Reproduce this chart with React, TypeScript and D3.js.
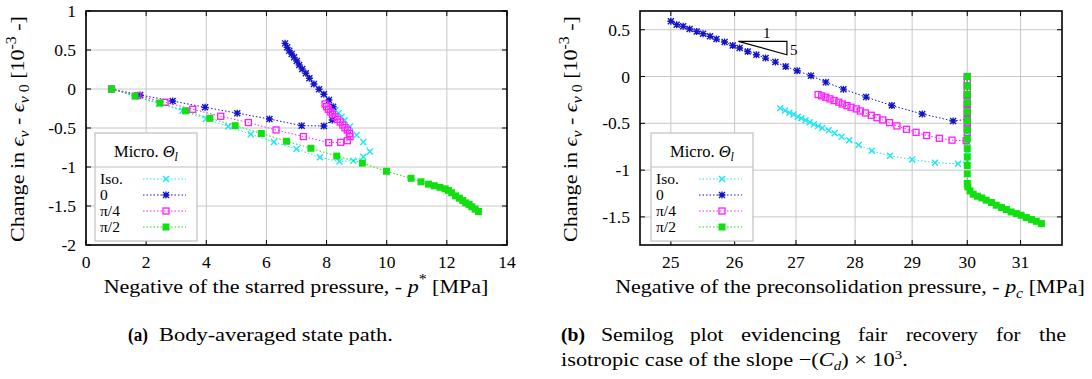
import React, { useLayoutEffect, useRef, useState } from "react";
import * as d3 from "d3";

// ---------- DATA ----------
const seriesLabels = ["Iso.", "0", "π/4", "π/2"];
const seriesColors = ["#1ee6f2", "#1414c8", "#ff1cff", "#10e010"];
const seriesMarkers = ["cross", "star", "openSquare", "filledSquare"];

// (a) x = -p* [MPa], y = change in eps_v [1e-3]
const isoA: [number, number][] = [
  [0.85, 0], [1.64, -0.095], [2.43, -0.19], [3.21, -0.28], [3.99, -0.385], [4.73, -0.48],
  [5.48, -0.58], [6.25, -0.68], [7.0, -0.77], [7.78, -0.876], [8.43, -0.93], [8.89, -0.92],
  [9.22, -0.87], [9.44, -0.8], [9.22, -0.68], [9.0, -0.59], [8.78, -0.48], [8.6, -0.4],
  [8.5, -0.355], [8.4, -0.31], [8.3, -0.27],
];
const zeroA: [number, number][] = [
  [0.85, 0], [1.8, -0.077], [2.88, -0.154], [3.96, -0.235], [5.03, -0.31], [6.1, -0.385],
  [7.17, -0.47], [7.91, -0.474], [8.19, -0.397], [8.22, -0.227], [8.08, -0.141], [7.91, -0.068],
  [7.75, -0.004], [7.58, 0.064], [7.43, 0.137], [7.31, 0.201], [7.19, 0.256], [7.09, 0.308],
  [7.01, 0.359], [6.92, 0.406], [6.84, 0.449], [6.76, 0.49], [6.69, 0.534], [6.62, 0.585],
];
const quarterA: [number, number][] = [
  [0.85, 0], [1.72, -0.085], [2.63, -0.17], [3.55, -0.26], [4.48, -0.35], [5.4, -0.43],
  [6.32, -0.525], [7.23, -0.61], [8.07, -0.688], [8.47, -0.683], [8.69, -0.663], [8.78, -0.611],
  [8.76, -0.568], [8.69, -0.526], [8.61, -0.496], [8.54, -0.462], [8.45, -0.423], [8.36, -0.389],
  [8.28, -0.355], [8.2, -0.325], [8.14, -0.295], [8.06, -0.26], [8.0, -0.226], [7.95, -0.192],
];
const halfA: [number, number][] = [
  [0.85, 0], [1.63, -0.09], [2.46, -0.18], [3.31, -0.28], [4.12, -0.375], [4.96, -0.47],
  [5.83, -0.57], [6.67, -0.67], [7.48, -0.76], [8.34, -0.86], [9.19, -0.95], [9.99, -1.055],
  [10.81, -1.145], [11.14, -1.19], [11.39, -1.22], [11.58, -1.24], [11.77, -1.26], [11.94, -1.28],
  [12.05, -1.3], [12.16, -1.33], [12.29, -1.37], [12.42, -1.4], [12.53, -1.43], [12.63, -1.46],
  [12.74, -1.48], [12.83, -1.51], [12.94, -1.54], [13.05, -1.57],
];

// (b) x = -pc [MPa] (log), y = change in eps_v [1e-3]
const isoB: [number, number][] = [
  [30, 0], [30, -0.1], [30, -0.2], [30, -0.3], [30, -0.4], [30, -0.5], [30, -0.6], [30, -0.7],
  [30, -0.8], [30, -0.9], [29.83, -0.932], [29.41, -0.922], [29.0, -0.886], [28.61, -0.847],
  [28.29, -0.793], [28.06, -0.732], [27.9, -0.682], [27.77, -0.643], [27.65, -0.607],
  [27.55, -0.575], [27.44, -0.55], [27.37, -0.53], [27.3, -0.51], [27.23, -0.489],
  [27.16, -0.467], [27.09, -0.446], [27.03, -0.429], [26.96, -0.407], [26.89, -0.386],
  [26.82, -0.364], [26.74, -0.339],
];
const zeroB: [number, number][] = [
  [30, 0], [30, -0.1], [30, -0.2], [30, -0.3], [30, -0.4], [30, -0.457], [29.74, -0.475],
  [29.18, -0.4], [28.64, -0.31], [28.19, -0.22], [27.8, -0.135], [27.5, -0.06], [27.25, 0.008],
  [27.02, 0.061], [26.83, 0.107], [26.66, 0.154], [26.5, 0.197], [26.35, 0.233], [26.21, 0.268],
  [26.08, 0.304], [25.97, 0.332], [25.84, 0.369], [25.71, 0.4], [25.61, 0.429], [25.5, 0.458],
  [25.4, 0.482], [25.29, 0.508], [25.19, 0.536], [25.09, 0.554], [25.0, 0.59],
];
const quarterB: [number, number][] = [
  [30, 0], [30, -0.05], [30, -0.1], [30, -0.15], [30, -0.2], [30, -0.25], [30, -0.3],
  [30, -0.35], [30, -0.4], [30, -0.45], [30, -0.5], [30, -0.55], [30, -0.6], [29.98, -0.686],
  [29.72, -0.68], [29.49, -0.66], [29.26, -0.63], [29.07, -0.596], [28.9, -0.564], [28.73, -0.528],
  [28.6, -0.493], [28.48, -0.464], [28.38, -0.44], [28.28, -0.414], [28.18, -0.389], [28.09, -0.368],
  [28.02, -0.346], [27.93, -0.328], [27.86, -0.311], [27.78, -0.293], [27.72, -0.274], [27.64, -0.257],
  [27.57, -0.239], [27.5, -0.221], [27.43, -0.207], [27.37, -0.193],
];
const halfB: [number, number][] = [
  [30, 0], [30, -0.1], [30, -0.19], [30, -0.28], [30, -0.375], [30, -0.47], [30, -0.57],
  [30, -0.67], [30, -0.77], [30, -0.86], [30, -0.95], [30, -1.04], [30, -1.143], [30.01, -1.179],
  [30.05, -1.222], [30.11, -1.257], [30.19, -1.279], [30.27, -1.297], [30.35, -1.321],
  [30.45, -1.346], [30.54, -1.375], [30.64, -1.4], [30.73, -1.421], [30.82, -1.447],
  [30.92, -1.464], [31.01, -1.482], [31.11, -1.507], [31.21, -1.528], [31.3, -1.547], [31.4, -1.571],
];

const xTicksA = [0, 2, 4, 6, 8, 10, 12, 14];
const yTicksA = [1, 0.5, 0, -0.5, -1, -1.5, -2];
const xTicksB = [25, 26, 27, 28, 29, 30, 31];
const yTicksB = [0.5, 0, -0.5, -1, -1.5];
// slope triangle (b), data coords
const triangleB: [number, number][] = [[26.06, 0.375], [26.85, 0.375], [26.85, 0.233]];

// ---------- DRAWING ----------
const serif = "'Liberation Serif', 'Times New Roman', serif";
const gridColor = "#c8c8c8";

// Text horizontally stretched (glyph-wise) to a target width
function FitText({ x, y, width, anchor = "start", rotate = 0, fontSize, fontWeight, children }: any) {
  const ref = useRef<SVGTextElement>(null);
  const [s, setS] = useState(1);
  useLayoutEffect(() => {
    if (ref.current) {
      const w = ref.current.getBBox().width;
      if (w > 0) setS(width / w);
    }
  }, [width]);
  return (
    <g transform={`translate(${x},${y}) rotate(${rotate}) scale(${s},1)`}>
      <text ref={ref} x={0} y={0} textAnchor={anchor} fontFamily={serif} fontSize={fontSize} fontWeight={fontWeight}>
        {children}
      </text>
    </g>
  );
}

function Marker({ type, x, y, color }: { type: string; x: number; y: number; color: string }) {
  if (type === "cross")
    return <path d={`M${x - 3},${y - 3}L${x + 3},${y + 3}M${x - 3},${y + 3}L${x + 3},${y - 3}`} stroke={color} strokeWidth={1.4} fill="none" />;
  if (type === "star")
    return (
      <path
        d={`M${x - 3},${y - 3}L${x + 3},${y + 3}M${x - 3},${y + 3}L${x + 3},${y - 3}M${x - 3.5},${y}H${x + 3.5}M${x},${y - 3.5}V${y + 3.5}`}
        stroke={color} strokeWidth={1.4} fill="none" />
    );
  if (type === "openSquare")
    return <rect x={x - 3} y={y - 3} width={6} height={6} stroke={color} strokeWidth={1.3} fill="none" />;
  return <rect x={x - 3.5} y={y - 3.5} width={7} height={7} fill={color} />;
}

function Series({ data, xs, ys, idx }: { data: [number, number][]; xs: any; ys: any; idx: number }) {
  const line = d3.line<[number, number]>().x((d) => xs(d[0])).y((d) => ys(d[1]));
  return (
    <g>
      <path d={line(data) || ""} stroke={seriesColors[idx]} strokeWidth={1} strokeDasharray="1.5,2" fill="none" />
      {data.map((d, i) => (
        <Marker key={i} type={seriesMarkers[idx]} x={xs(d[0])} y={ys(d[1])} color={seriesColors[idx]} />
      ))}
    </g>
  );
}

function Frame({ xs, ys, xTicks, yTicks, fmt, x0, x1, y0, y1 }: any) {
  return (
    <g>
      {xTicks.map((t: number) => (
        <line key={"gx" + t} x1={xs(t)} x2={xs(t)} y1={y0} y2={y1} stroke={gridColor} strokeWidth={1} />
      ))}
      {yTicks.map((t: number) => (
        <line key={"gy" + t} x1={x0} x2={x1} y1={ys(t)} y2={ys(t)} stroke={gridColor} strokeWidth={1} />
      ))}
      {xTicks.map((t: number) => (
        <g key={"tx" + t}>
          <line x1={xs(t)} x2={xs(t)} y1={y1} y2={y1 - 5} stroke="#000" />
          <line x1={xs(t)} x2={xs(t)} y1={y0} y2={y0 + 5} stroke="#000" />
          <text x={xs(t)} y={y1 + 23} textAnchor="middle" fontFamily={serif} fontSize={17.5}>{fmt(t)}</text>
        </g>
      ))}
      {yTicks.map((t: number) => (
        <g key={"ty" + t}>
          <line x1={x0} x2={x0 + 5} y1={ys(t)} y2={ys(t)} stroke="#000" />
          <line x1={x1} x2={x1 - 5} y1={ys(t)} y2={ys(t)} stroke="#000" />
          <text x={x0 - 10} y={ys(t) + 6} textAnchor="end" fontFamily={serif} fontSize={17.5}>{fmt(t)}</text>
        </g>
      ))}
    </g>
  );
}

function Border({ x0, x1, y0, y1 }: any) {
  return <rect x={x0} y={y0} width={x1 - x0} height={y1 - y0} fill="none" stroke="#000" strokeWidth={1.6} />;
}

function Legend({ x, y }: { x: number; y: number }) {
  const w = 102, h = 108;
  return (
    <g>
      <rect x={x} y={y} width={w} height={h} fill="#fff" stroke="#c0c0c0" strokeWidth={1.2} />
      <line x1={x} x2={x + w} y1={y + 34} y2={y + 34} stroke="#c0c0c0" strokeWidth={1.2} />
      <text x={x + w / 2} y={y + 24} textAnchor="middle" fontFamily={serif} fontSize={16.5}>
        Micro. <tspan fontStyle="italic">Θ</tspan>
        <tspan fontStyle="italic" fontSize={12} dy={4}>l</tspan>
      </text>
      {seriesLabels.map((s, i) => {
        const yy = y + 46 + i * 16;
        return (
          <g key={s}>
            <text x={x + 5} y={yy + 5} fontFamily={serif} fontSize={15.5}>{s}</text>
            <line x1={x + 48} x2={x + 91} y1={yy} y2={yy} stroke={seriesColors[i]} strokeWidth={1} strokeDasharray="1.5,2" />
            <Marker type={seriesMarkers[i]} x={x + 71} y={yy} color={seriesColors[i]} />
          </g>
        );
      })}
    </g>
  );
}

function YLabel({ x, y }: { x: number; y: number }) {
  return (
    <FitText x={x} y={y} width={226} anchor="middle" rotate={-90} fontSize={19.5}>
      Change in <tspan fontStyle="italic">ϵ</tspan>
      <tspan fontStyle="italic" fontSize={14} dy={5}>v</tspan>
      <tspan dy={-5}> - </tspan>
      <tspan fontStyle="italic">ϵ</tspan>
      <tspan fontSize={14} dy={5}><tspan fontStyle="italic">v</tspan> 0</tspan>
      <tspan dy={-5}> [10</tspan>
      <tspan fontSize={14} dy={-8}>-3</tspan>
      <tspan dy={8}> -]</tspan>
    </FitText>
  );
}

export default function App() {
  // panel a
  const aX0 = 86, aX1 = 507, Y0 = 11, Y1 = 245;
  const xA = d3.scaleLinear().domain([0, 14]).range([aX0, aX1]);
  const yA = d3.scaleLinear().domain([-2, 1]).range([Y1, Y0]);
  // panel b
  const bX0 = 640, bX1 = 1062;
  const xB = d3.scaleLog().domain([24.53, 31.8]).range([bX0, bX1]);
  const yB = d3.scaleLinear().domain([-1.8, 0.7]).range([Y1, Y0]);

  const seriesA = [isoA, zeroA, quarterA, halfA];
  const seriesB = [isoB, zeroB, quarterB, halfB];
  const triPath = d3.line<[number, number]>().x((d) => xB(d[0])).y((d) => yB(d[1]));

  return (
    <svg width={1092} height={379} style={{ position: "absolute", left: 0, top: 0, background: "#fff" }}>
      {/* Panel (a) */}
      <Frame xs={xA} ys={yA} xTicks={xTicksA} yTicks={yTicksA} fmt={(t: number) => String(t)} x0={aX0} x1={aX1} y0={Y0} y1={Y1} />
      {seriesA.map((s, i) => <Series key={i} data={s} xs={xA} ys={yA} idx={i} />)}
      <Legend x={95} y={133} />
      <Border x0={aX0} x1={aX1} y0={Y0} y1={Y1} />
      <YLabel x={24} y={129} />
      <FitText x={296} y={293} width={385} anchor="middle" fontSize={19.5}>
        Negative of the starred pressure, - <tspan fontStyle="italic">p</tspan>
        <tspan fontSize={14} dy={-9}>*</tspan>
        <tspan dy={9}> [MPa]</tspan>
      </FitText>

      {/* Panel (b) */}
      <Frame xs={xB} ys={yB} xTicks={xTicksB} yTicks={yTicksB} fmt={(t: number) => String(t)} x0={bX0} x1={bX1} y0={Y0} y1={Y1} />
      {seriesB.map((s, i) => <Series key={i} data={s} xs={xB} ys={yB} idx={i} />)}
      <path d={(triPath(triangleB) || "") + "Z"} fill="none" stroke="#000" strokeWidth={1.2} />
      <text x={(xB(triangleB[0][0]) + xB(triangleB[1][0])) / 2 + 4} y={yB(triangleB[0][1]) - 3} textAnchor="middle" fontFamily={serif} fontSize={15}>1</text>
      <text x={xB(triangleB[1][0]) + 3} y={(yB(triangleB[1][1]) + yB(triangleB[2][1])) / 2 + 7} fontFamily={serif} fontSize={15}>5</text>
      <Legend x={651} y={133} />
      <Border x0={bX0} x1={bX1} y0={Y0} y1={Y1} />
      <YLabel x={577} y={129} />
      <FitText x={850} y={293} width={470} anchor="middle" fontSize={19.5}>
        Negative of the preconsolidation pressure, - <tspan fontStyle="italic">p</tspan>
        <tspan fontStyle="italic" fontSize={14} dy={5}>c</tspan>
        <tspan dy={-5}> [MPa]</tspan>
      </FitText>

      {/* Captions */}
      <FitText x={128} y={341} width={20} fontSize={19} fontWeight="bold">(a)</FitText>
      <FitText x={159} y={341} width={234} fontSize={19.5}>Body-averaged state path.</FitText>

      <FitText x={561} y={341} width={24} fontSize={19.5} fontWeight="bold">(b)</FitText>
      <FitText x={601} y={341} width={73} fontSize={19.5}>Semilog</FitText>
      <FitText x={690} y={341} width={34} fontSize={19.5}>plot</FitText>
      <FitText x={741} y={341} width={100} fontSize={19.5}>evidencing</FitText>
      <FitText x={858} y={341} width={30} fontSize={19.5}>fair</FitText>
      <FitText x={906} y={341} width={72} fontSize={19.5}>recovery</FitText>
      <FitText x={996} y={341} width={25} fontSize={19.5}>for</FitText>
      <FitText x={1039} y={341} width={27} fontSize={19.5}>the</FitText>
      <FitText x={561} y={366} width={347} fontSize={19.5}>
        isotropic case of the slope −(<tspan fontStyle="italic">C</tspan>
        <tspan fontStyle="italic" fontSize={13} dy={4}>d</tspan>
        <tspan dy={-4}>) × 10</tspan>
        <tspan fontSize={13} dy={-7}>3</tspan>
        <tspan dy={7}>.</tspan>
      </FitText>
    </svg>
  );
}
